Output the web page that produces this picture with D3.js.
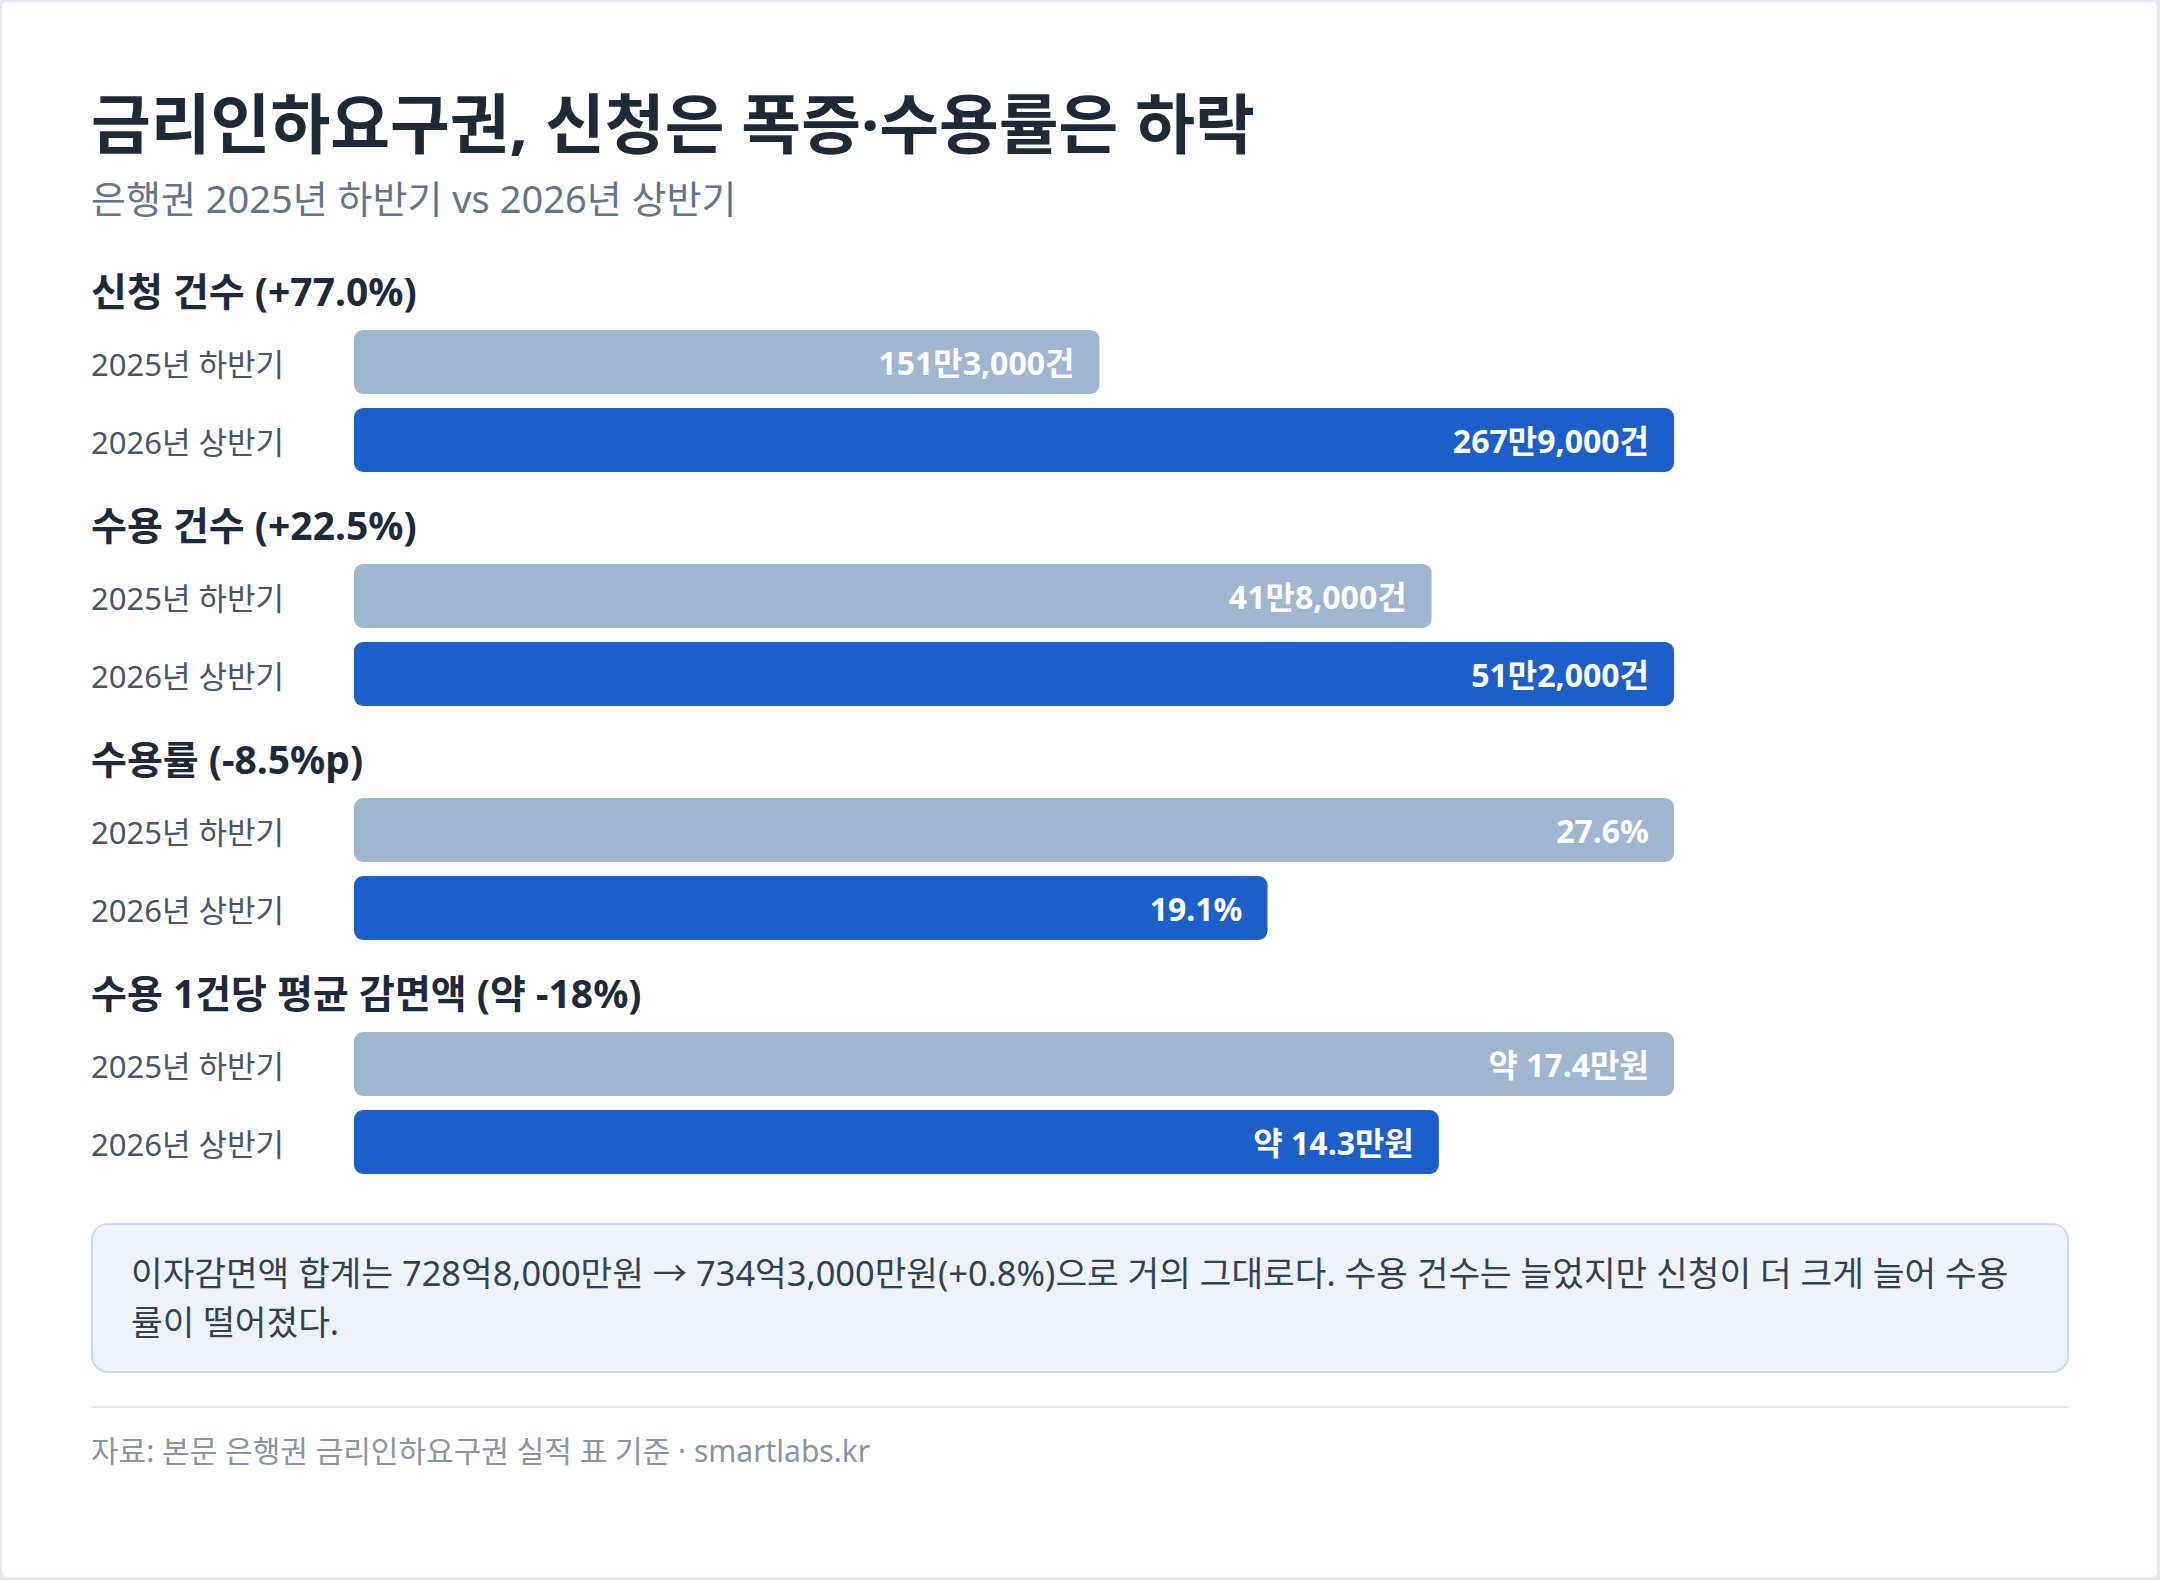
<!DOCTYPE html>
<html lang="ko">
<head>
<meta charset="utf-8">
<script src="https://cdn.jsdelivr.net/npm/d3@7"></script>
<style>
  html, body { margin: 0; padding: 0; background: #e3e8ee; }
  svg { display: block; font-family: 'Noto Sans', 'Noto Sans CJK KR', sans-serif; }
</style>
</head>
<body>
<svg width="2160" height="1580"></svg>
<script>
// ---- data ----
const title = '금리인하요구권, 신청은 폭증·수용률은 하락';
const subtitle = '은행권 2025년 하반기 vs 2026년 상반기';
const periods = ['2025년 하반기', '2026년 상반기'];
const sectionTitles = ['신청 건수 (+77.0%)', '수용 건수 (+22.5%)', '수용률 (-8.5%p)', '수용 1건당 평균 감면액 (약 -18%)'];
const applyCount = [1513000, 2679000];
const acceptCount = [418000, 512000];
const acceptRate = [27.6, 19.1];
const avgReduction = [17.4, 14.3];
const applyLabels = ['151만3,000건', '267만9,000건'];
const acceptLabels = ['41만8,000건', '51만2,000건'];
const rateLabels = ['27.6%', '19.1%'];
const reductionLabels = ['약 17.4만원', '약 14.3만원'];
const noteLines = [
  '이자감면액 합계는 728억8,000만원 → 734억3,000만원(+0.8%)으로 거의 그대로다. 수용 건수는 늘었지만 신청이 더 크게 늘어 수용',
  '률이 떨어졌다.'
];
const source = '자료: 본문 은행권 금리인하요구권 실적 표 기준 · smartlabs.kr';

const sections = [
  {title: sectionTitles[0], values: applyCount, labels: applyLabels},
  {title: sectionTitles[1], values: acceptCount, labels: acceptLabels},
  {title: sectionTitles[2], values: acceptRate, labels: rateLabels},
  {title: sectionTitles[3], values: avgReduction, labels: reductionLabels}
];

const svg = d3.select('svg');
const width = +svg.attr('width');
const height = +svg.attr('height');

const colors = ['#9eb6cf', '#1c5fc9'];
const left = 91;
const right = 2069;
const barLeft = 354;
const barRight = 1674;
const sectionTop = 292;      // heading centre of first section
const sectionStep = 234;

// card
svg.append('rect')
  .attr('x', 2).attr('y', 2)
  .attr('width', width - 5).attr('height', height - 5)
  .attr('rx', 5)
  .attr('fill', '#ffffff');

svg.append('text')
  .attr('x', left).attr('y', 148)
  .attr('font-size', 65).attr('font-weight', 700)
  .attr('fill', '#1e2a38')
  .text(title);

svg.append('text')
  .attr('x', left).attr('y', 213)
  .attr('font-size', 38)
  .attr('fill', '#64748b')
  .text(subtitle);

const xScale = d3.scaleLinear().range([0, barRight - barLeft]);
const yScale = d3.scaleBand()
  .domain(periods)
  .range([38, 38 + 142])
  .paddingInner(14 / 78)
  .paddingOuter(0);

sections.forEach((s, i) => {
  const g = svg.append('g')
    .attr('transform', `translate(0, ${sectionTop + i * sectionStep})`);

  g.append('text')
    .attr('x', left).attr('y', 14)
    .attr('font-size', 39).attr('font-weight', 700)
    .attr('fill', '#1e293b')
    .text(s.title);

  xScale.domain([0, d3.max(s.values)]);

  const rows = periods.map((p, j) => ({period: p, value: s.values[j], label: s.labels[j], idx: j}));

  g.selectAll('text.period').data(rows)
    .enter().append('text')
      .attr('class', 'period')
      .attr('x', left)
      .attr('y', d => yScale(d.period) + yScale.bandwidth() / 2)
      .attr('dy', '0.44em')
      .attr('font-size', 31)
      .attr('fill', '#4a5568')
      .text(d => d.period);

  g.selectAll('rect.bar').data(rows)
    .enter().append('rect')
      .attr('class', 'bar')
      .attr('x', barLeft)
      .attr('y', d => yScale(d.period))
      .attr('width', d => xScale(d.value))
      .attr('height', yScale.bandwidth())
      .attr('rx', 9)
      .attr('fill', d => colors[d.idx]);

  g.selectAll('text.value').data(rows)
    .enter().append('text')
      .attr('class', 'value')
      .attr('x', d => barLeft + xScale(d.value) - 25)
      .attr('y', d => yScale(d.period) + yScale.bandwidth() / 2)
      .attr('dy', '0.40em')
      .attr('text-anchor', 'end')
      .attr('font-size', 32).attr('font-weight', 700)
      .attr('fill', '#ffffff')
      .text(d => d.label);
});

// note box
svg.append('rect')
  .attr('x', left + 1).attr('y', 1224)
  .attr('width', right - left - 2).attr('height', 148)
  .attr('rx', 16)
  .attr('fill', '#edf3fb')
  .attr('stroke', '#c9daf1')
  .attr('stroke-width', 2);

svg.append('g').selectAll('text').data(noteLines)
  .enter().append('text')
    .attr('x', 131)
    .attr('y', (d, i) => 1286 + i * 49)
    .attr('font-size', 34.4)
    .attr('fill', '#334155')
    .text(d => d);

svg.append('line')
  .attr('x1', left).attr('x2', right)
  .attr('y1', 1407).attr('y2', 1407)
  .attr('stroke', '#e5eaf0')
  .attr('stroke-width', 2);

svg.append('text')
  .attr('x', left).attr('y', 1462)
  .attr('font-size', 30)
  .attr('fill', '#8a94a3')
  .text(source);
</script>
</body>
</html>
